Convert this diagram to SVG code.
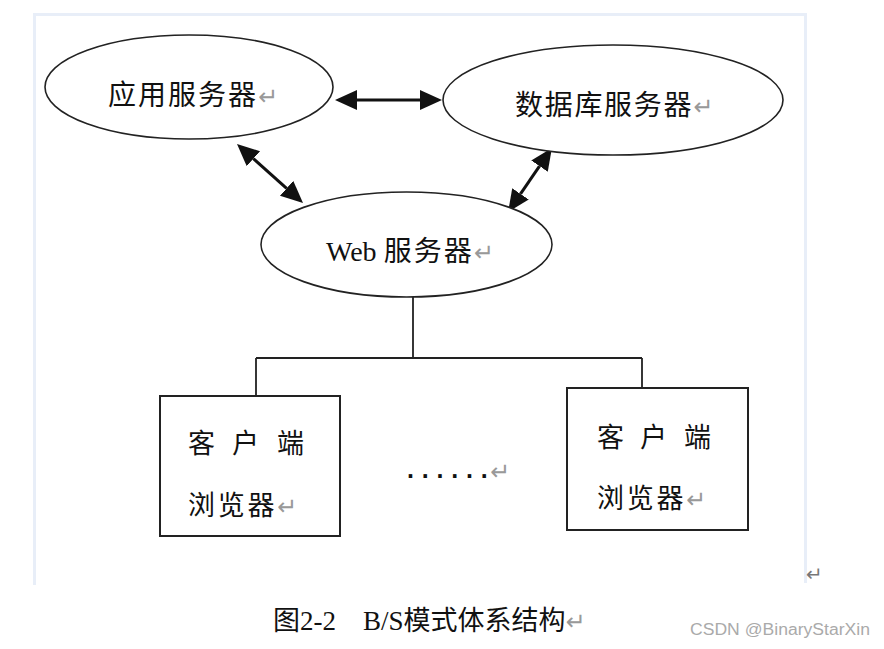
<svg xmlns="http://www.w3.org/2000/svg" width="884" height="649" viewBox="0 0 884 649">
<style>
.node{fill:#fff;stroke:#222;stroke-width:1.6}
.box{fill:#fff;stroke:#222;stroke-width:2}
.lbl{font-family:"Noto Sans CJK SC","Noto Sans",sans-serif;fill:#111}
.lat{font-family:"Liberation Serif","Noto Sans CJK SC",serif}
.ret{fill:#999;font-size:24px;font-family:"DejaVu Sans",sans-serif}
.conn{stroke:#222;stroke-width:1.8;fill:none}
.arr{stroke:#111;stroke-width:3;fill:none;marker-start:url(#ah);marker-end:url(#ah)}
.frame{stroke:#e8eef8;stroke-width:3;fill:none}
</style>
<defs>
<marker id="ah" markerUnits="userSpaceOnUse" markerWidth="24" markerHeight="22" refX="0" refY="10" orient="auto-start-reverse" viewBox="0 0 24 22">
<path d="M0,0 L22,10 L0,20 z" fill="#111"/>
</marker>
</defs>
<rect width="884" height="649" fill="#fff"/>
<path class="frame" d="M34.5,585 V14.5 H805.5 V583"/>
<g id="connectors">
<line class="arr" x1="357" y1="100" x2="420" y2="100"/>
<line class="arr" x1="253.4" y1="158.7" x2="286.6" y2="188.3"/>
<line class="arr" x1="539.5" y1="166.1" x2="520.5" y2="193.9"/>
<path class="conn" d="M413,297 V358 M256,358 H642 M256,358 V396 M642,358 V388"/>
</g>
<g id="app-server">
<ellipse class="node" cx="189" cy="87" rx="144" ry="52"/>
<text class="lbl" x="108" y="105" font-size="28" letter-spacing="2">应用服务器<tspan class="ret" letter-spacing="0">↵</tspan></text>
</g>
<g id="db-server">
<ellipse class="node" cx="613" cy="100" rx="170" ry="55"/>
<text class="lbl" x="515" y="115" font-size="28" letter-spacing="1.7">数据库服务器<tspan class="ret" letter-spacing="0">↵</tspan></text>
</g>
<g id="web-server">
<ellipse class="node" cx="406.5" cy="244.5" rx="145.5" ry="52.5"/>
<text class="lbl" x="326" y="261" font-size="28"><tspan class="lat">Web </tspan><tspan letter-spacing="2">服务器</tspan><tspan class="ret">↵</tspan></text>
</g>
<g id="client-1">
<rect class="box" x="160" y="396" width="180" height="140"/>
<text class="lbl" font-size="27" x="188 215 232 259 277" y="453">客 户 端</text>
<text class="lbl" font-size="27" x="188" y="515" letter-spacing="2.7">浏览器<tspan class="ret" letter-spacing="0">↵</tspan></text>
</g>
<g id="client-2">
<rect class="box" x="567" y="388" width="181" height="142"/>
<text class="lbl" font-size="27" x="597 624 640 667 684" y="447">客 户 端</text>
<text class="lbl" font-size="27" x="597" y="508" letter-spacing="2.7">浏览器<tspan class="ret" letter-spacing="0">↵</tspan></text>
</g>
<g id="ellipsis">
<text x="407" y="478" font-family="Liberation Sans, sans-serif" font-weight="bold" font-size="25" fill="#111"><tspan letter-spacing="7.8">.....</tspan>.<tspan x="490" y="480" class="ret" font-size="13" font-weight="normal">↵</tspan></text>
</g>
<text x="806" y="581" font-family="DejaVu Sans, sans-serif" font-size="20" fill="#777">↵</text>
<text x="273" y="630" font-size="27" class="lbl lat" xml:space="preserve">图2-2    B/S模式体系结构<tspan class="ret" font-size="30" fill="#888">↵</tspan></text>
<text x="690" y="635" font-family="Liberation Sans, sans-serif" font-size="16" fill="#aaa" textLength="180" lengthAdjust="spacingAndGlyphs">CSDN @BinaryStarXin</text>
</svg>
